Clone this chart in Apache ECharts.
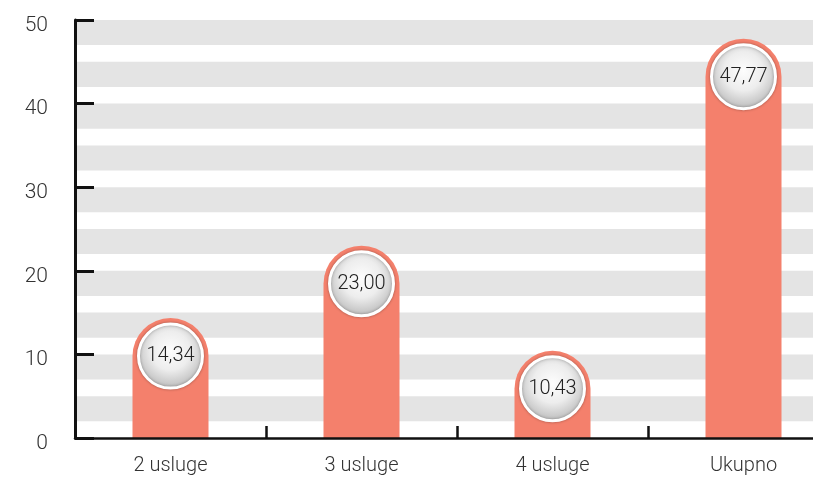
<!DOCTYPE html>
<html>
<head>
<meta charset="utf-8">
<script src="https://cdn.jsdelivr.net/npm/echarts@6/dist/echarts.min.js"></script>
<style>html,body{margin:0;padding:0;background:#fff;overflow:hidden;width:813px;height:478px}#c{width:839px;height:478px}</style>
</head>
<body>
<div id="c"></div>
<script>
const categories = ['2 usluge', '3 usluge', '4 usluge', 'Ukupno'];
const values = [14.34, 23.00, 10.43, 47.77];
const yTicks = [0, 10, 20, 30, 40, 50];
const stripeStarts = [2, 7, 12, 17, 22, 27, 32, 37, 42, 47];
const stripeSize = 3;

const FONT = "Roboto, sans-serif";
const chart = echarts.init(document.getElementById('c'), null, {renderer: 'canvas'});
const fmt = v => v.toFixed(2).replace('.', ',');

chart.setOption({
  animation: false,
  grid: {left: 75, top: 20, right: 0, bottom: 40},
  xAxis: {
    type: 'category',
    data: categories,
    boundaryGap: true,
    z: 10,
    axisLine: {show: true, lineStyle: {color: '#111', width: 2.5}},
    axisTick: {show: true, interval: 0, alignWithLabel: false, inside: true, length: 12, lineStyle: {color: '#111', width: 2.5}},
    axisLabel: {color: '#333', fontSize: 20, fontFamily: FONT, fontWeight: 300, margin: 18}
  },
  yAxis: {
    type: 'value',
    min: yTicks[0], max: yTicks[yTicks.length - 1], interval: 10,
    z: 10,
    axisLine: {show: true, lineStyle: {color: '#111', width: 3}},
    axisTick: {show: true, inside: true, length: 19, lineStyle: {color: '#111', width: 3}},
    axisLabel: {color: '#333', fontSize: 21, fontFamily: FONT, fontWeight: 300, margin: 27, verticalAlign: 'top', lineHeight: 11},
    splitLine: {show: false}
  },
  series: [
    {
      type: 'bar',
      data: values,
      barWidth: 76,
      itemStyle: {color: '#F4806C', borderRadius: [38, 38, 0, 0]},
      z: 2,
      markArea: {
        silent: true,
        itemStyle: {color: '#e4e4e4'},
        data: stripeStarts.map(s => [{yAxis: s}, {yAxis: s + stripeSize}])
      }
    },
    {
      type: 'scatter',
      data: values,
      symbol: 'circle',
      symbolSize: 64,
      symbolOffset: [0, 38],
      z: 5,
      itemStyle: {
        color: new echarts.graphic.RadialGradient(0.5, 0.42, 0.58, [
          {offset: 0, color: '#fdfdfd'},
          {offset: 0.5, color: '#ededed'},
          {offset: 0.85, color: '#c8c8c8'},
          {offset: 1, color: '#b4b4b4'}
        ]),
        borderColor: '#ffffff',
        borderWidth: 3,
        shadowBlur: 3,
        shadowColor: 'rgba(0,0,0,0.3)',
        shadowOffsetY: 0,
        opacity: 1
      },
      label: {
        show: true,
        position: 'inside',
        formatter: p => fmt(p.value),
        color: '#222',
        fontSize: 20,
        fontFamily: FONT,
        fontWeight: 300
      }
    }
  ]
});
</script>
</body>
</html>
